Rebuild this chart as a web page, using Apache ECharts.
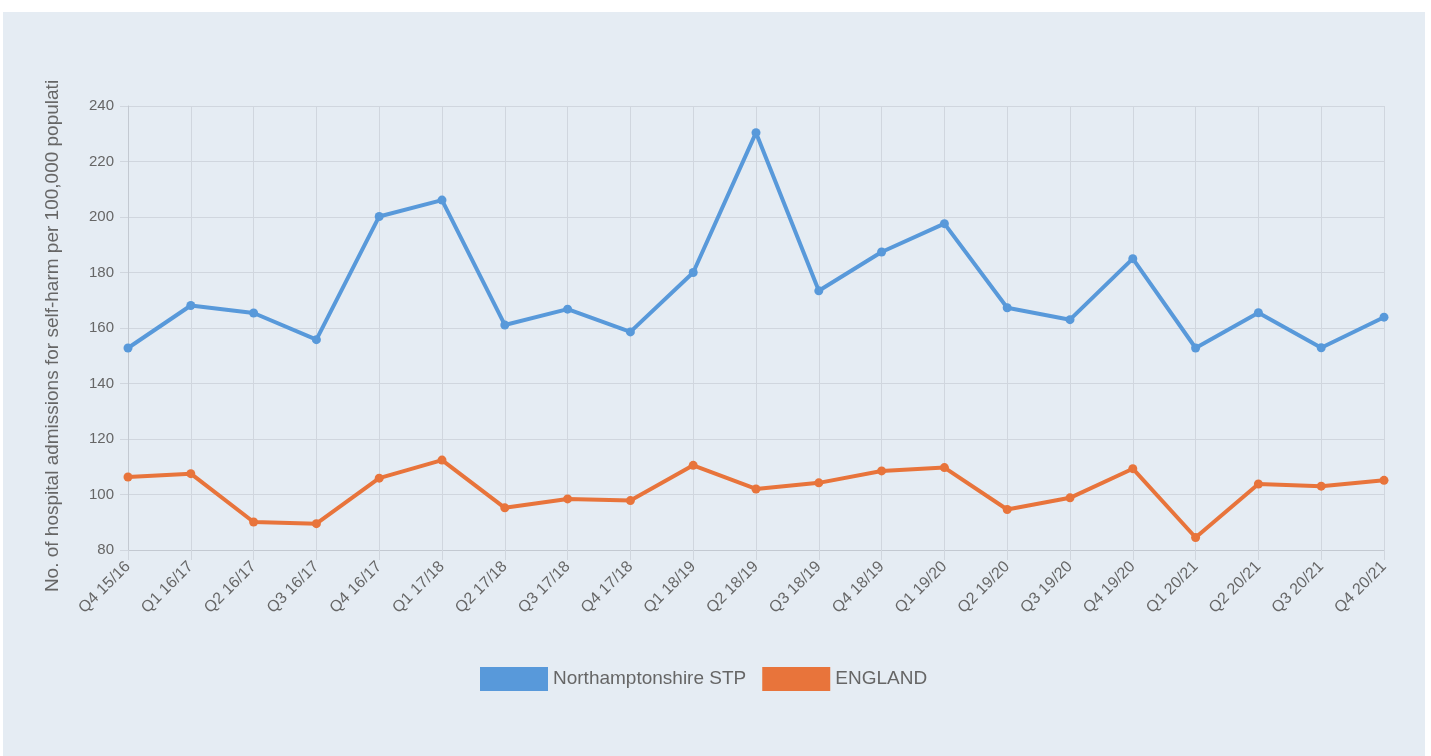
<!DOCTYPE html>
<html>
<head>
<meta charset="utf-8">
<script src="https://cdn.jsdelivr.net/npm/echarts@6/dist/echarts.min.js"></script>
<style>
    html, body { margin: 0; padding: 0; background: #ffffff; }
    #chart { position: absolute; left: 3px; top: 12px; width: 1422px; height: 744px; background: #e5ecf3; }
</style>
</head>
<body>
<div id="chart"></div>
<script>
var quarters = ['Q4 15/16', 'Q1 16/17', 'Q2 16/17', 'Q3 16/17', 'Q4 16/17', 'Q1 17/18', 'Q2 17/18',
    'Q3 17/18', 'Q4 17/18', 'Q1 18/19', 'Q2 18/19', 'Q3 18/19', 'Q4 18/19', 'Q1 19/20',
    'Q2 19/20', 'Q3 19/20', 'Q4 19/20', 'Q1 20/21', 'Q2 20/21', 'Q3 20/21', 'Q4 20/21'];
var northants = [152.8, 168.1, 165.4, 155.8, 200.2, 206.1, 161.1, 166.8, 158.6, 180.0, 230.4,
    173.4, 187.4, 197.6, 167.3, 163.0, 185.0, 152.8, 165.5, 152.9, 163.9];
var england = [106.3, 107.5, 90.1, 89.5, 105.9, 112.4, 95.2, 98.4, 97.8, 110.5, 102.0,
    104.2, 108.5, 109.7, 94.6, 98.8, 109.3, 84.5, 103.8, 103.0, 105.1];
var yTicks = { min: 80, max: 240, step: 20 };

var chart = echarts.init(document.getElementById('chart'));
var font = 'Liberation Sans, Arial, sans-serif';
var option = {
    backgroundColor: 'transparent',
    animation: false,
    grid: { left: 125, right: 41, top: 94, bottom: 206 },
    legend: {
        left: 472,
        top: 650,
        itemWidth: 68,
        itemHeight: 24,
        itemGap: 16,
        icon: 'rect',
        textStyle: { fontFamily: font, fontSize: 19, color: '#666' },
        data: ['Northamptonshire STP', 'ENGLAND']
    },
    xAxis: {
        type: 'category',
        boundaryGap: false,
        data: quarters,
        axisLine: { lineStyle: { color: '#c3c9d1', width: 1 } },
        axisTick: { show: true, length: 10, lineStyle: { color: '#d0d6de' } },
        axisLabel: { rotate: 45, margin: 14, fontFamily: font, fontSize: 16, color: '#666' },
        splitLine: { show: true, lineStyle: { color: '#d0d6de', width: 1 } }
    },
    yAxis: {
        type: 'value',
        min: yTicks.min,
        max: yTicks.max,
        interval: yTicks.step,
        name: 'No. of hospital admissions for self-harm per 100,000 populati',
        nameLocation: 'middle',
        nameGap: 66,
        nameTextStyle: { fontFamily: font, fontSize: 19, color: '#666', padding: [0, 16, 0, 0] },
        axisLine: { show: true, lineStyle: { color: '#c3c9d1' } },
        axisTick: { show: true, length: 8, lineStyle: { color: '#d0d6de' } },
        axisLabel: { margin: 14, fontFamily: font, fontSize: 15, color: '#666' },
        splitLine: { show: true, lineStyle: { color: '#d0d6de', width: 1 } }
    },
    series: [
        {
            name: 'Northamptonshire STP',
            type: 'line',
            data: northants,
            symbol: 'circle',
            symbolSize: 9,
            color: '#5899da',
            lineStyle: { width: 4 }
        },
        {
            name: 'ENGLAND',
            type: 'line',
            data: england,
            symbol: 'circle',
            symbolSize: 9,
            color: '#e8743b',
            lineStyle: { width: 4 }
        }
    ]
};
chart.setOption(option);
</script>
</body>
</html>
